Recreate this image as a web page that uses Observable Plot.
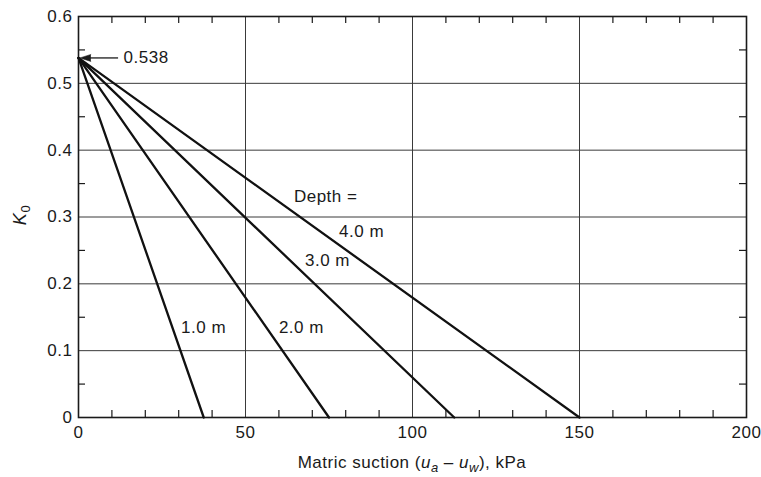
<!DOCTYPE html>
<html>
<head>
<meta charset="utf-8">
<script src="https://cdn.jsdelivr.net/npm/d3@7"></script>
<script src="https://cdn.jsdelivr.net/npm/@observablehq/plot@0.6"></script>
<style>
  html, body { margin: 0; padding: 0; background: #fff; }
  #chart svg { display: block; }
  #chart svg text { letter-spacing: 0.5px; }
</style>
</head>
<body>
<div id="chart"></div>
<script>
// ---- data ----
const depthLabels = ["1.0 m", "2.0 m", "3.0 m", "4.0 m"];
const k0AtZeroSuction = 0.538;
const suctionAtZeroK0 = [37.5, 75, 112.5, 150];
const labelX = [30.7, 60, 67.8, 78];
const labelY = [0.135, 0.135, 0.2355, 0.2775];
const headerText = ["Depth ="];
const headerX = [64.5];
const headerY = [0.33];
const calloutText = ["0.538"];
const calloutX = [13.5];
const arrowFromX = [12];
const arrowToX = [0.4];
const xTicks = [0, 50, 100, 150, 200];
const yTicks = [0, 0.1, 0.2, 0.3, 0.4, 0.5, 0.6];
const xGrid = [50, 100, 150];
const yGrid = [0.1, 0.2, 0.3, 0.4, 0.5];
const xMinor = [10, 20, 30, 40, 60, 70, 80, 90, 110, 120, 130, 140, 160, 170, 180, 190];
const yMinor = [0.05, 0.15, 0.25, 0.35, 0.45, 0.55];

const rows = depthLabels.flatMap((d, i) => [
  {depth: d, suction: 0, k0: k0AtZeroSuction},
  {depth: d, suction: suctionAtZeroK0[i], k0: 0}
]);
const lineLabels = depthLabels.map((d, i) => ({text: d, x: labelX[i], y: labelY[i]}));
const headers = headerText.map((t, i) => ({text: t, x: headerX[i], y: headerY[i]}));
const callouts = calloutText.map((t, i) => ({text: t, x: calloutX[i], y: k0AtZeroSuction, x1: arrowFromX[i], x2: arrowToX[i]}));

const ink = "#1a1a1a";
const font = "Liberation Sans, Arial, Helvetica, sans-serif";

const chart = Plot.plot({
  width: 761,
  height: 477,
  marginLeft: 78,
  marginRight: 15,
  marginTop: 16,
  marginBottom: 60,
  style: {fontFamily: font, fontSize: "17px", color: ink, background: "#fff"},
  x: {domain: [0, 200], ticks: xTicks, tickSize: 0, tickPadding: 8, label: null},
  y: {domain: [0, 0.6], ticks: yTicks, tickSize: 0, tickPadding: 6, label: null,
      tickFormat: d => d === 0 ? "0" : d.toFixed(1)},
  marks: [
    Plot.ruleX(xGrid, {x: d => d, stroke: "#3a3a3a", strokeWidth: 1}),
    Plot.ruleY(yGrid, {y: d => d, stroke: "#3a3a3a", strokeWidth: 1}),
    // minor ticks, inward on all four sides
    Plot.ruleX(xMinor, {x: d => d, y1: 0, y2: 0, insetTop: -7, stroke: ink, strokeWidth: 1.2}),
    Plot.ruleX(xMinor, {x: d => d, y1: 0.6, y2: 0.6, insetBottom: -7, stroke: ink, strokeWidth: 1.2}),
    Plot.ruleY(yMinor, {y: d => d, x1: 0, x2: 0, insetRight: -7, stroke: ink, strokeWidth: 1.2}),
    Plot.ruleY(yMinor, {y: d => d, x1: 200, x2: 200, insetLeft: -7, stroke: ink, strokeWidth: 1.2}),
    Plot.frame({stroke: ink, strokeWidth: 1.6}),
    Plot.line(rows, {x: "suction", y: "k0", z: "depth", stroke: "#111", strokeWidth: 2.3}),
    Plot.text(lineLabels, {x: "x", y: "y", text: "text", textAnchor: "start", fill: ink, fontSize: 17}),
    Plot.text(headers, {x: "x", y: "y", text: "text", textAnchor: "start", fill: ink, fontSize: 17}),
    Plot.text(callouts, {x: "x", y: "y", text: "text", textAnchor: "start", fill: ink, fontSize: 17}),
    Plot.ruleY(callouts, {y: "y", x1: "x1", x2: d => d.x2 + 3, stroke: ink, strokeWidth: 1.3}),
    Plot.vector(callouts, {x: "x2", y: "y", shape: "spike", length: 11, r: 3.5, rotate: -90, anchor: "end", fill: ink, stroke: ink, strokeWidth: 0.5})
  ]
});

const svg = d3.select(chart);
// x-axis title
const xt = svg.append("text")
  .attr("x", 412).attr("y", 468)
  .attr("text-anchor", "middle")
  .attr("fill", ink)
  .style("font-family", font).style("font-size", "17px");
xt.append("tspan").text("Matric suction (");
xt.append("tspan").attr("font-style", "italic").text("u");
xt.append("tspan").attr("font-style", "italic").attr("font-size", "13px").attr("dy", 4).text("a");
xt.append("tspan").attr("dy", -4).text(" \u2013 ");
xt.append("tspan").attr("font-style", "italic").text("u");
xt.append("tspan").attr("font-style", "italic").attr("font-size", "13px").attr("dy", 4).text("w");
xt.append("tspan").attr("dy", -4).text("), kPa");

// y-axis title
const yt = svg.append("text")
  .attr("transform", "translate(26,215) rotate(-90)")
  .attr("text-anchor", "middle")
  .attr("fill", ink)
  .style("font-family", font).style("font-size", "18px");
yt.append("tspan").attr("font-style", "italic").text("K");
yt.append("tspan").attr("font-size", "13px").attr("dy", 4).text("0");

document.getElementById("chart").appendChild(chart);
</script>
</body>
</html>
